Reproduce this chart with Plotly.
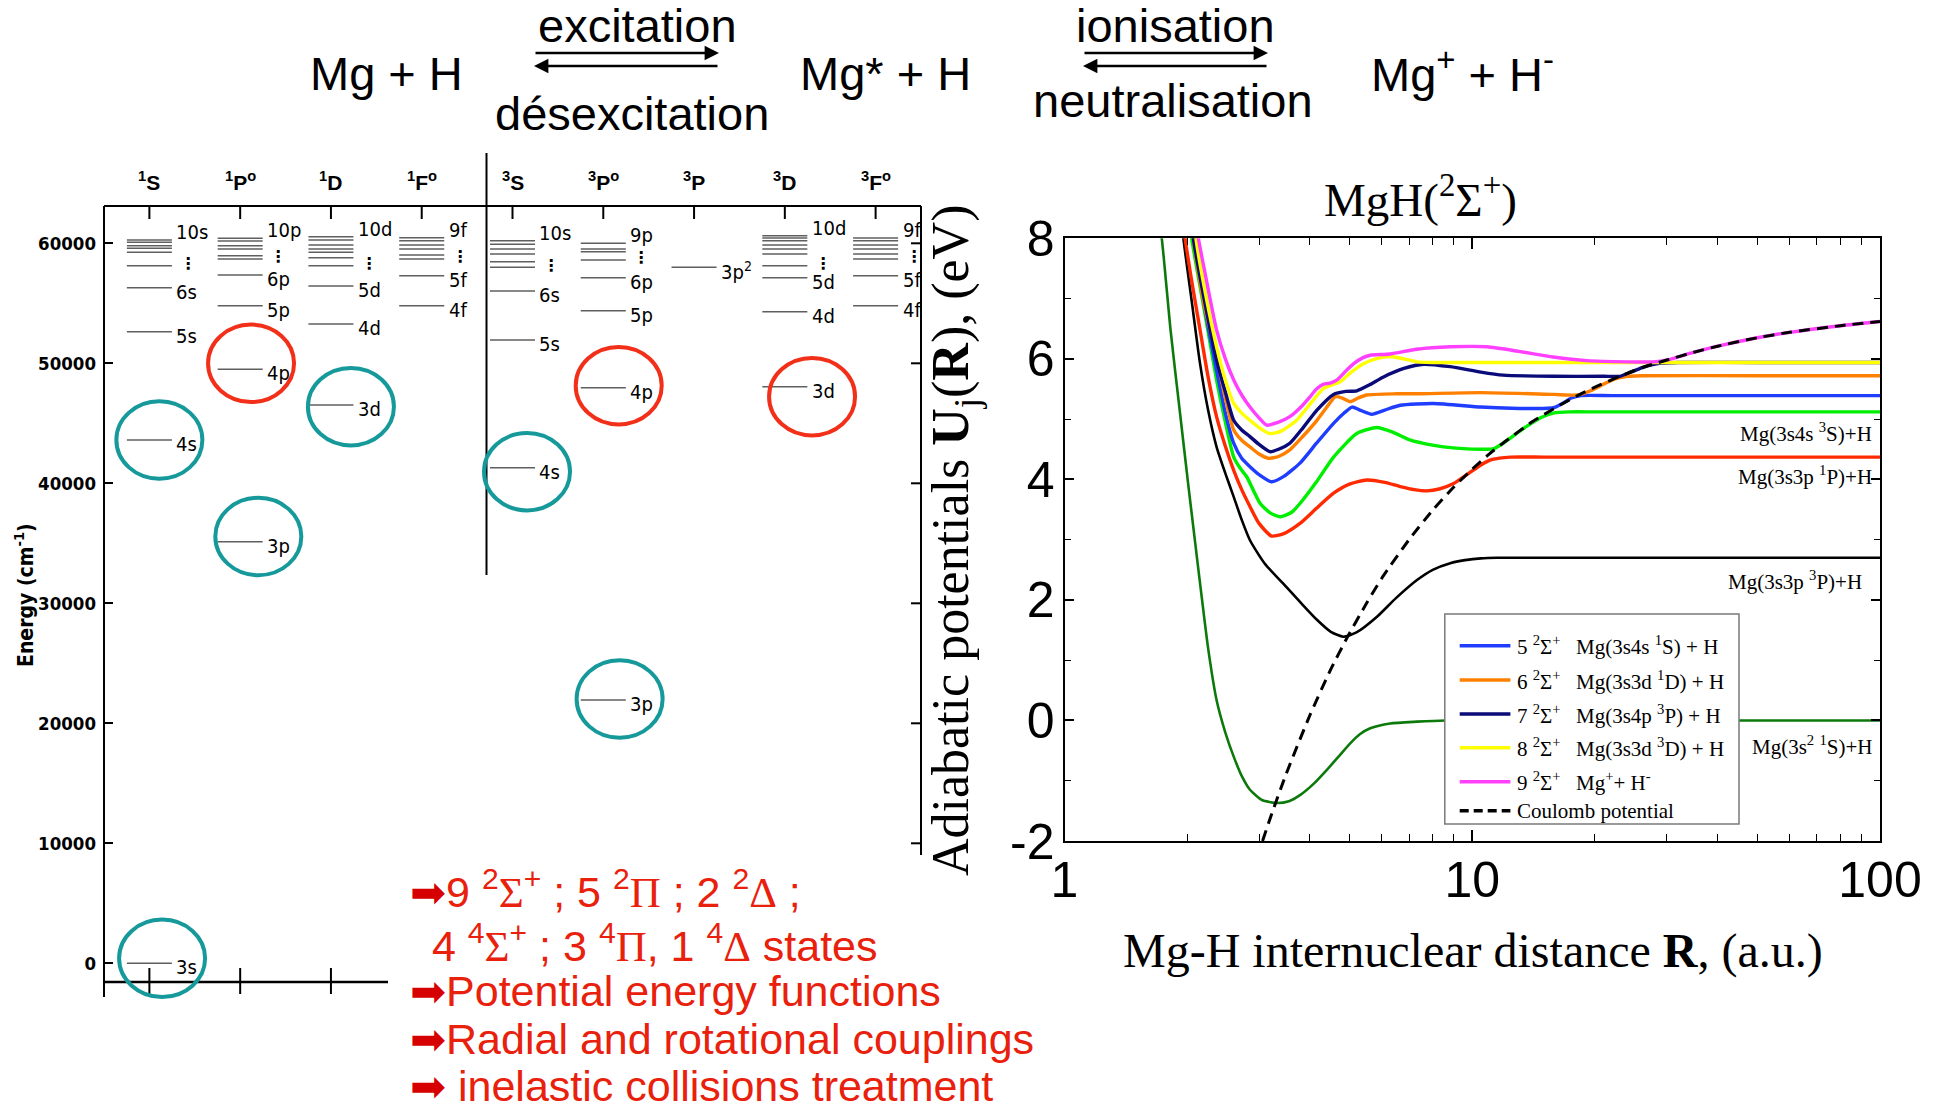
import plotly.graph_objects as go

W, H = 1936, 1114


def px(x):
    return x / W


def py(y):
    return 1 - y / H


# ---------------- Mg I term diagram (energies in cm-1) ----------------
TERMS = ["<sup>1</sup>S", "<sup>1</sup>P<sup>o</sup>", "<sup>1</sup>D", "<sup>1</sup>F<sup>o</sup>",
         "<sup>3</sup>S", "<sup>3</sup>P<sup>o</sup>", "<sup>3</sup>P", "<sup>3</sup>D", "<sup>3</sup>F<sup>o</sup>"]

LOW_LABELS = [["3s", "4s", "5s", "6s"], ["3p", "4p", "5p", "6p"], ["3d", "4d", "5d"], ["4f", "5f"],
              ["4s", "5s", "6s"], ["3p", "4p", "5p", "6p"], ["3p<sup>2</sup>"], ["3d", "4d", "5d"], ["4f", "5f"]]
LOW_ENERGIES = [[0, 43608, 52633, 56300], [35133, 49500, 54800, 57358], [46525, 53275, 56442],
                [54800, 57300], [41300, 51942, 56025], [21940, 47967, 54383, 57133], [58000],
                [48050, 54300, 57133], [54800, 57300]]
RYDBERG_ENERGIES = [[58133, 59250, 59583, 59800, 60083, 60275],
                    [58692, 58967, 59525, 59800, 60192, 60417],
                    [58133, 58800, 59250, 59525, 59858, 60275, 60550],
                    [58692, 59025, 59525, 59858, 60217, 60467],
                    [58000, 58467, 59108, 59525, 59917, 60217],
                    [58608, 59300, 59525, 60000],
                    [],
                    [58133, 59108, 59525, 59858, 60217, 60442, 60633],
                    [58692, 59108, 59525, 59858, 60217, 60442]]
RYDBERG_TOP = ["10s", "10p", "10d", "9f", "10s", "9p", "", "10d", "9f"]
ENERGY_TICKS = [0, 10000, 20000, 30000, 40000, 50000, 60000]

# highlighted levels (ring centre: column, energy)
RING_COLUMN = [0.11, 1.12, 2.22, 1.20, 0.14, 4.16, 5.17, 7.30, 5.18]
RING_ENERGY = [43608, 50000, 46383, 35567, 417, 40967, 48133, 47217, 22025]
RING_KIND = ["teal", "red", "teal", "teal", "teal", "teal", "red", "red", "teal"]

# ---------------- MgH 2Sigma+ adiabatic potentials (R in a.u., U in eV) ----------------
R_X = [1.68, 1.732, 1.82, 1.92, 2.01, 2.10, 2.17, 2.25, 2.36, 2.48, 2.60, 2.72, 2.85, 3.05, 3.32, 3.55,
       3.78, 4.10, 4.40, 4.70, 5.02, 5.30, 5.62, 6.29, 7.32, 8.6, 10, 20, 50, 100]
U_X = [8.6, 8.0, 6.48, 5.1, 3.93, 2.85, 2.05, 1.2, 0.34, -0.2, -0.6, -0.92, -1.15, -1.32, -1.37, -1.34,
       -1.24, -1.04, -0.82, -0.6, -0.38, -0.23, -0.13, -0.05, -0.02, 0, 0, 0, 0, 0]

R_2 = [1.93, 1.957, 2.05, 2.15, 2.25, 2.36, 2.48, 2.60, 2.72, 2.85, 3.1, 3.44, 3.8, 4.16, 4.5, 4.83,
       5.2, 5.84, 6.5, 7.32, 8.0, 8.83, 9.6, 10.5, 11.5, 15, 30, 100]
U_2 = [8.5, 8.0, 6.97, 5.92, 5.15, 4.54, 4.1, 3.71, 3.33, 2.99, 2.6, 2.27, 1.95, 1.67, 1.47, 1.39,
       1.46, 1.72, 2.03, 2.33, 2.5, 2.61, 2.66, 2.69, 2.70, 2.70, 2.70, 2.70]

R_3 = [1.95, 1.976, 2.05, 2.15, 2.25, 2.36, 2.48, 2.60, 2.72, 2.85, 3.0, 3.22, 3.45, 3.78, 4.15, 4.57,
       5.0, 5.51, 6.1, 6.66, 7.2, 7.74, 8.3, 9.0, 9.8, 10.5, 11.2, 12.4, 15, 30, 100]
U_3 = [8.4, 8.0, 7.3, 6.48, 5.7, 5.04, 4.55, 4.15, 3.83, 3.55, 3.27, 3.06, 3.1, 3.27, 3.52, 3.77,
       3.92, 3.99, 3.95, 3.88, 3.83, 3.81, 3.84, 3.93, 4.10, 4.24, 4.33, 4.37, 4.37, 4.37, 4.37]

R_4 = [2.0, 2.05, 2.15, 2.25, 2.36, 2.48, 2.60, 2.70, 2.80, 3.02, 3.20, 3.38, 3.6, 3.78, 4.15, 4.57,
       5.21, 5.84, 6.4, 7.06, 7.8, 8.5, 9.5, 10.5, 11.3, 12.2, 13.0, 13.9, 14.8, 15.8, 17.4, 20, 50, 100]
U_4 = [8.6, 8.0, 7.2, 6.45, 5.65, 4.95, 4.37, 4.18, 4.04, 3.6, 3.44, 3.38, 3.45, 3.6, 3.96, 4.37,
       4.76, 4.86, 4.78, 4.65, 4.58, 4.54, 4.51, 4.50, 4.51, 4.65, 4.79, 4.92, 5.03, 5.10, 5.12, 5.12,
       5.12, 5.12]

R_5 = [2.05, 2.09, 2.2, 2.36, 2.48, 2.60, 2.72, 2.85, 3.0, 3.22, 3.45, 3.78, 4.15, 4.57, 4.85, 5.07,
       5.3, 5.67, 6.1, 6.66, 8.04, 10.5, 12.5, 15.3, 16.0, 16.75, 17.5, 18.5, 22, 50, 100]
U_5 = [8.5, 8.0, 6.9, 5.81, 5.1, 4.6, 4.35, 4.21, 4.08, 3.96, 4.05, 4.27, 4.6, 4.93, 5.1, 5.2,
       5.15, 5.08, 5.15, 5.23, 5.26, 5.2, 5.18, 5.18, 5.20, 5.27, 5.35, 5.39, 5.39, 5.39, 5.39]

R_6 = [2.03, 2.07, 2.2, 2.36, 2.48, 2.60, 2.72, 2.85, 3.0, 3.16, 3.35, 3.57, 3.85, 4.16, 4.4, 4.61,
       4.8, 5.02, 5.25, 5.51, 6.5, 7.32, 10.5, 15.8, 18.1, 19.5, 21.0, 22.5, 24.0, 26, 50, 100]
U_6 = [8.5, 8.0, 6.9, 6.03, 5.35, 4.82, 4.65, 4.54, 4.42, 4.35, 4.38, 4.49, 4.72, 4.98, 5.2, 5.37,
       5.35, 5.29, 5.35, 5.40, 5.42, 5.42, 5.44, 5.41, 5.40, 5.47, 5.58, 5.67, 5.71, 5.72, 5.72, 5.72]

R_7 = [2.03, 2.07, 2.2, 2.36, 2.48, 2.60, 2.72, 2.85, 3.0, 3.19, 3.35, 3.57, 3.85, 4.16, 4.57, 4.9,
       5.21, 5.6, 6.06, 6.8, 7.6, 8.83, 10.5, 11.9, 15.8, 21, 23, 24.5, 26, 27.5, 29, 32, 50, 100]
U_7 = [8.5, 8.0, 7.0, 5.98, 5.45, 4.98, 4.82, 4.71, 4.58, 4.46, 4.5, 4.6, 4.86, 5.15, 5.41, 5.46,
       5.47, 5.57, 5.70, 5.84, 5.91, 5.87, 5.78, 5.73, 5.71, 5.71, 5.71, 5.78, 5.85, 5.90, 5.93, 5.94,
       5.94, 5.94]

R_8 = [2.06, 2.1, 2.2, 2.36, 2.48, 2.60, 2.72, 2.85, 3.0, 3.19, 3.4, 3.71, 4.0, 4.32, 4.74, 5.05,
       5.41, 5.8, 6.29, 6.8, 7.32, 8.0, 10, 50, 100]
U_8 = [8.5, 8.0, 7.2, 6.2, 5.65, 5.26, 5.1, 4.98, 4.86, 4.76, 4.80, 4.98, 5.25, 5.51, 5.62, 5.78,
       5.92, 6.0, 6.04, 6.0, 5.95, 5.94, 5.94, 5.94, 5.94]

R_9 = [2.09, 2.13, 2.2, 2.36, 2.48, 2.60, 2.72, 2.85, 3.0, 3.13, 3.35, 3.57, 3.8, 4.0, 4.15, 4.32,
       4.5, 4.66, 4.9, 5.12, 5.4, 5.62, 6.29, 7.32, 8.83, 10.87, 13.1, 15.8, 19.1, 24, 27.9, 30, 35,
       40, 50, 60, 80, 100]
U_9 = [8.5, 8.0, 7.5, 6.48, 6.0, 5.65, 5.4, 5.2, 5.02, 4.9, 4.95, 5.04, 5.2, 5.37, 5.5, 5.58,
       5.6, 5.65, 5.8, 5.92, 6.02, 6.06, 6.08, 6.16, 6.2, 6.2, 6.12, 6.03, 5.97, 5.95, 5.95, 5.98, 6.11,
       6.21, 6.35, 6.44, 6.55, 6.62]

R_COUL = [3.06, 3.2, 3.5, 4.0, 4.5, 4.93, 5.5, 6.0, 7.0, 8.0, 9.0, 10, 11, 12, 14, 16, 18, 20, 23,
          26, 30, 35, 40, 50, 60, 80, 100]
U_COUL = [-2.0, -1.61, -0.88, 0.09, 0.85, 1.37, 1.94, 2.36, 3.00, 3.49, 3.87, 4.17, 4.42, 4.62,
          4.95, 5.19, 5.38, 5.53, 5.71, 5.85, 5.98, 6.11, 6.21, 6.35, 6.44, 6.55, 6.62]

LEGEND_INDEX = ["5", "6", "7", "8", "9"]
LEGEND_ASYMPTOTE = ["Mg(3s4s <sup>1</sup>S) + H", "Mg(3s3d <sup>1</sup>D) + H", "Mg(3s4p <sup>3</sup>P) + H",
                    "Mg(3s3d <sup>3</sup>D) + H", "Mg<sup>+</sup>+ H<sup>-</sup>"]
ASYMPTOTE_TEXT = ["Mg(3s4s <sup>3</sup>S)+H", "Mg(3s3p <sup>1</sup>P)+H", "Mg(3s3p <sup>3</sup>P)+H",
                  "Mg(3s<sup>2</sup> <sup>1</sup>S)+H"]
ASYMPTOTE_Y = [4.77, 4.07, 2.33, -0.42]

# ---------------- styling ----------------
SANS = "Liberation Sans, Arial, sans-serif"
NARROW = "Liberation Sans Narrow, Arial Narrow, DejaVu Sans Condensed, Liberation Sans, sans-serif"
SERIF = "Liberation Serif, Times New Roman, serif"
RING_COLORS = {"teal": "#16999a", "red": "#f2301a"}
STATE_STYLE = [
    (R_X, U_X, "#0b7a0b", 2.6),
    (R_2, U_2, "#000000", 2.6),
    (R_3, U_3, "#ff2a00", 3.4),
    (R_4, U_4, "#00ee00", 3.4),
    (R_5, U_5, "#1f3dff", 3.4),
    (R_6, U_6, "#ff8000", 3.4),
    (R_7, U_7, "#0a0a78", 3.4),
    (R_8, U_8, "#ffff00", 3.4),
    (R_9, U_9, "#ff40ff", 3.4),
]
LEGEND_COLORS = ["#1f3dff", "#ff8000", "#0a0a78", "#ffff00", "#ff40ff"]

# Grotrian panel geometry (pixels)
G_LEFT, G_RIGHT, G_TOP, G_BOTTOM = 104, 921, 150, 1000
E_ZERO_PX, PX_PER_CM = 963.3, 0.012
FRAME_TOP, RIGHT_END, BOTTOM_LINE = 206, 855, 982
HALF = 0.248

fig = go.Figure()

# level lines
for i in range(len(TERMS)):
    xs, ys = [], []
    for e in LOW_ENERGIES[i] + RYDBERG_ENERGIES[i]:
        xs += [i - HALF, i + HALF, None]
        ys += [e, e, None]
    fig.add_trace(go.Scatter(x=xs, y=ys, mode="lines", xaxis="x2", yaxis="y2",
                             line=dict(color="#5f5f5f", width=1.6), showlegend=False,
                             hoverinfo="skip"))

# potential curves
for r, u, color, width in STATE_STYLE:
    fig.add_trace(go.Scatter(x=r, y=u, mode="lines", xaxis="x", yaxis="y",
                             line=dict(color=color, width=width, shape="spline", smoothing=0.6),
                             showlegend=False))
fig.add_trace(go.Scatter(x=R_COUL, y=U_COUL, mode="lines", xaxis="x", yaxis="y",
                         line=dict(color="black", width=3, dash="11px,7px", shape="spline",
                                   smoothing=0.6),
                         showlegend=False))

shapes = []
ann = []


def pline(x0, y0, x1, y1, width=2, color="black"):
    shapes.append(dict(type="line", xref="paper", yref="paper",
                       x0=x0, y0=y0, x1=x1, y1=y1, line=dict(color=color, width=width)))


def text(t, x, y, size, family=SANS, xanchor="center", yanchor="middle", xref="paper",
         yref="paper", color="black", **kw):
    ann.append(dict(text=t, x=x, y=y, xref=xref, yref=yref, xanchor=xanchor, yanchor=yanchor,
                    showarrow=False, font=dict(family=family, size=size, color=color), **kw))


# Grotrian frame
pline(px(G_LEFT), py(FRAME_TOP), px(G_LEFT), py(997))
pline(px(G_LEFT), py(FRAME_TOP), px(G_RIGHT), py(FRAME_TOP))
pline(px(G_RIGHT), py(FRAME_TOP), px(G_RIGHT), py(RIGHT_END))
pline(px(G_LEFT), py(BOTTOM_LINE), px(388), py(BOTTOM_LINE), width=2.5)
pline(px(486.5), py(153), px(486.5), py(575))
for i in range(len(TERMS)):
    shapes.append(dict(type="line", xref="x2", yref="paper", x0=i, x1=i,
                       y0=py(FRAME_TOP), y1=py(FRAME_TOP + 13), line=dict(color="black", width=2)))
for i in range(3):
    shapes.append(dict(type="line", xref="x2", yref="paper", x0=i, x1=i,
                       y0=py(968), y1=py(994), line=dict(color="black", width=2)))
for e in ENERGY_TICKS[1:]:
    shapes.append(dict(type="line", xref="paper", yref="y2", x0=px(G_RIGHT - 10), x1=px(G_RIGHT),
                       y0=e, y1=e, line=dict(color="black", width=2)))

# rings around the levels discussed
RX_COL = 43 / ((G_RIGHT - G_LEFT) / 9)
RY_CM = 38.7 / PX_PER_CM
for c, e, k in zip(RING_COLUMN, RING_ENERGY, RING_KIND):
    shapes.append(dict(type="circle", xref="x2", yref="y2", x0=c - RX_COL, x1=c + RX_COL,
                       y0=e - RY_CM, y1=e + RY_CM, line=dict(color=RING_COLORS[k], width=4)))

# term headers and level labels
for i, term in enumerate(TERMS):
    text("<b>" + term + "</b>", i, py(181), 21, xref="x2")
    for lab, e in zip(LOW_LABELS[i], LOW_ENERGIES[i]):
        text(lab, i + 0.275, e, 20, family=NARROW, xanchor="left", xref="x2", yref="y2", yshift=-4)
    if RYDBERG_ENERGIES[i]:
        text(RYDBERG_TOP[i], i + 0.275, max(RYDBERG_ENERGIES[i]), 20, family=NARROW,
             xanchor="left", xref="x2", yref="y2", yshift=8)
        text("<b>⋮</b>", i + 0.42, min(RYDBERG_ENERGIES[i]), 16, family="DejaVu Sans", xref="x2",
             yref="y2", yshift=2)

text("<b>Energy (cm<sup>-1</sup>)</b>", px(24), py(595), 21, family=NARROW, textangle=-90)

# reaction scheme
for txt, cx, cy in [("Mg + H", 386, 73.7), ("excitation", 637, 25.7), ("désexcitation", 632, 113.7),
                    ("Mg* + H", 885, 73.7), ("ionisation", 1175, 25.0),
                    ("neutralisation", 1173, 100.7), ("Mg<sup>+</sup> + H<sup>-</sup>", 1462, 71)]:
    text(txt, px(cx), py(cy), 47)
for x0, x1 in [(534, 719), (1083, 1268)]:
    ann.append(dict(text="", x=px(x1), y=py(53), xref="paper", yref="paper", ax=x0 - x1, ay=0,
                    showarrow=True, arrowhead=2, arrowsize=1.2, arrowwidth=2.4, arrowcolor="black"))
    ann.append(dict(text="", x=px(x0), y=py(66), xref="paper", yref="paper", ax=x1 - x0, ay=0,
                    showarrow=True, arrowhead=2, arrowsize=1.2, arrowwidth=2.4, arrowcolor="black"))

# red summary text
ARROW = '<span style="color:#d60000;font-family:DejaVu Sans">➡</span>'


def gk(ch):
    return '<span style="font-family:Liberation Serif">' + ch + '</span>'


red_lines = [
    ARROW + "9 <sup>2</sup>" + gk("Σ") + "<sup>+</sup> ; 5 <sup>2</sup>" + gk("Π") +
    " ; 2 <sup>2</sup>" + gk("Δ") + " ;",
    " 4 <sup>4</sup>" + gk("Σ") + "<sup>+</sup> ; 3 <sup>4</sup>" + gk("Π") + ", 1 <sup>4</sup>" +
    gk("Δ") + " states",
    ARROW + "Potential energy functions",
    ARROW + "Radial and rotational couplings",
    ARROW + " inelastic collisions treatment",
]
RED_Y = [889, 943, 991, 1039, 1086]
for k, line in enumerate(red_lines):
    text(line, px(408 if k != 1 else 418), py(RED_Y[k]), 43, xanchor="left", color="#e8200c")

# MgH panel texts
text("MgH(<sup>2</sup>Σ<sup>+</sup>)", px(1420), py(196), 47, family=SERIF)
text("Mg-H internuclear distance <b>R</b>, (a.u.)", px(1473), py(951), 48, family=SERIF)
text("Adiabatic potentials <b>U</b><sub>j</sub>(<b>R</b>), (eV)", px(954), py(540), 52,
     family=SERIF, textangle=-90)
for k, (txt, yv) in enumerate(zip(ASYMPTOTE_TEXT, ASYMPTOTE_Y)):
    text(txt, 2, yv, 21, family=SERIF, xanchor="right", xref="x", yref="y",
         xshift=-6 if k != 2 else -16)

# legend box
shapes.append(dict(type="rect", xref="paper", yref="paper", x0=px(1444.8), x1=px(1739),
                   y0=py(824), y1=py(614), line=dict(color="#7a7a7a", width=1.5),
                   fillcolor="white", layer="above"))
ROW_Y = [645.7, 680, 714, 747.7, 781.7, 810.7]
for k in range(5):
    shapes.append(dict(type="line", xref="paper", yref="paper", x0=px(1459.7), x1=px(1510.4),
                       y0=py(ROW_Y[k]), y1=py(ROW_Y[k]),
                       line=dict(color=LEGEND_COLORS[k], width=3.5)))
    text(LEGEND_INDEX[k] + " <sup>2</sup>Σ<sup>+</sup>", px(1514.6), py(ROW_Y[k]), 21,
         family=SERIF, xanchor="left")
    text(LEGEND_ASYMPTOTE[k], px(1574.3), py(ROW_Y[k]), 21, family=SERIF, xanchor="left")
shapes.append(dict(type="line", xref="paper", yref="paper", x0=px(1459.7), x1=px(1510.4),
                   y0=py(ROW_Y[5]), y1=py(ROW_Y[5]), line=dict(color="black", width=3.5, dash="9px,5px")))
text("Coulomb potential", px(1514.6), py(ROW_Y[5]), 21, family=SERIF, xanchor="left")

fig.update_layout(
    template="none",
    width=W, height=H, autosize=False, margin=dict(l=0, r=0, t=0, b=0, pad=0),
    paper_bgcolor="white", plot_bgcolor="rgba(0,0,0,0)", showlegend=False,
    shapes=shapes, annotations=ann,
    xaxis=dict(type="log", range=[0, 2], domain=[px(1064.5), px(1880)], anchor="y",
               automargin=False,
               showline=True, linecolor="black", linewidth=2, mirror="allticks",
               ticks="inside", ticklen=11, tickwidth=1.5, tickcolor="black",
               tickvals=[1, 10, 100], ticktext=["1", "10", "100"], ticklabelstandoff=-6,
               tickfont=dict(family=SANS, size=50, color="black"),
               minor=dict(ticks="inside", ticklen=7, tickwidth=1.2, tickcolor="black",
                          tickvals=[2, 3, 4, 5, 6, 7, 8, 9, 20, 30, 40, 50, 60, 70, 80, 90]),
               showgrid=False, zeroline=False),
    yaxis=dict(range=[-2, 8], domain=[py(841), py(238.3)], anchor="x", automargin=False,
               showline=True, linecolor="black", linewidth=2, mirror="allticks",
               ticks="inside", ticklen=9, tickwidth=1.5, tickcolor="black",
               tickvals=[-2, 0, 2, 4, 6, 8], ticktext=["-2", "0", "2", "4", "6", "8"],
               ticklabelstandoff=-2,
               tickfont=dict(family=SANS, size=50, color="black"),
               minor=dict(ticks="inside", ticklen=6, tickwidth=1.2, tickcolor="black",
                          tickvals=[-1, 1, 3, 5, 7]),
               showgrid=False, zeroline=False),
    xaxis2=dict(range=[-0.5, 8.5], domain=[px(G_LEFT), px(G_RIGHT)], anchor="y2", visible=False,
                automargin=False, fixedrange=True),
    yaxis2=dict(range=[(E_ZERO_PX - G_BOTTOM) / PX_PER_CM, (E_ZERO_PX - G_TOP) / PX_PER_CM],
                domain=[py(G_BOTTOM), py(G_TOP)], anchor="x2", automargin=False,
                showline=False, showgrid=False,
                zeroline=False, ticks="inside", ticklen=9, tickwidth=2, tickcolor="black",
                tickvals=ENERGY_TICKS, ticktext=[str(v) for v in ENERGY_TICKS],
                ticklabelstandoff=7,
                tickfont=dict(family=NARROW, size=18.5, color="black", weight="bold")),
)

fig.write_html("out.html")
